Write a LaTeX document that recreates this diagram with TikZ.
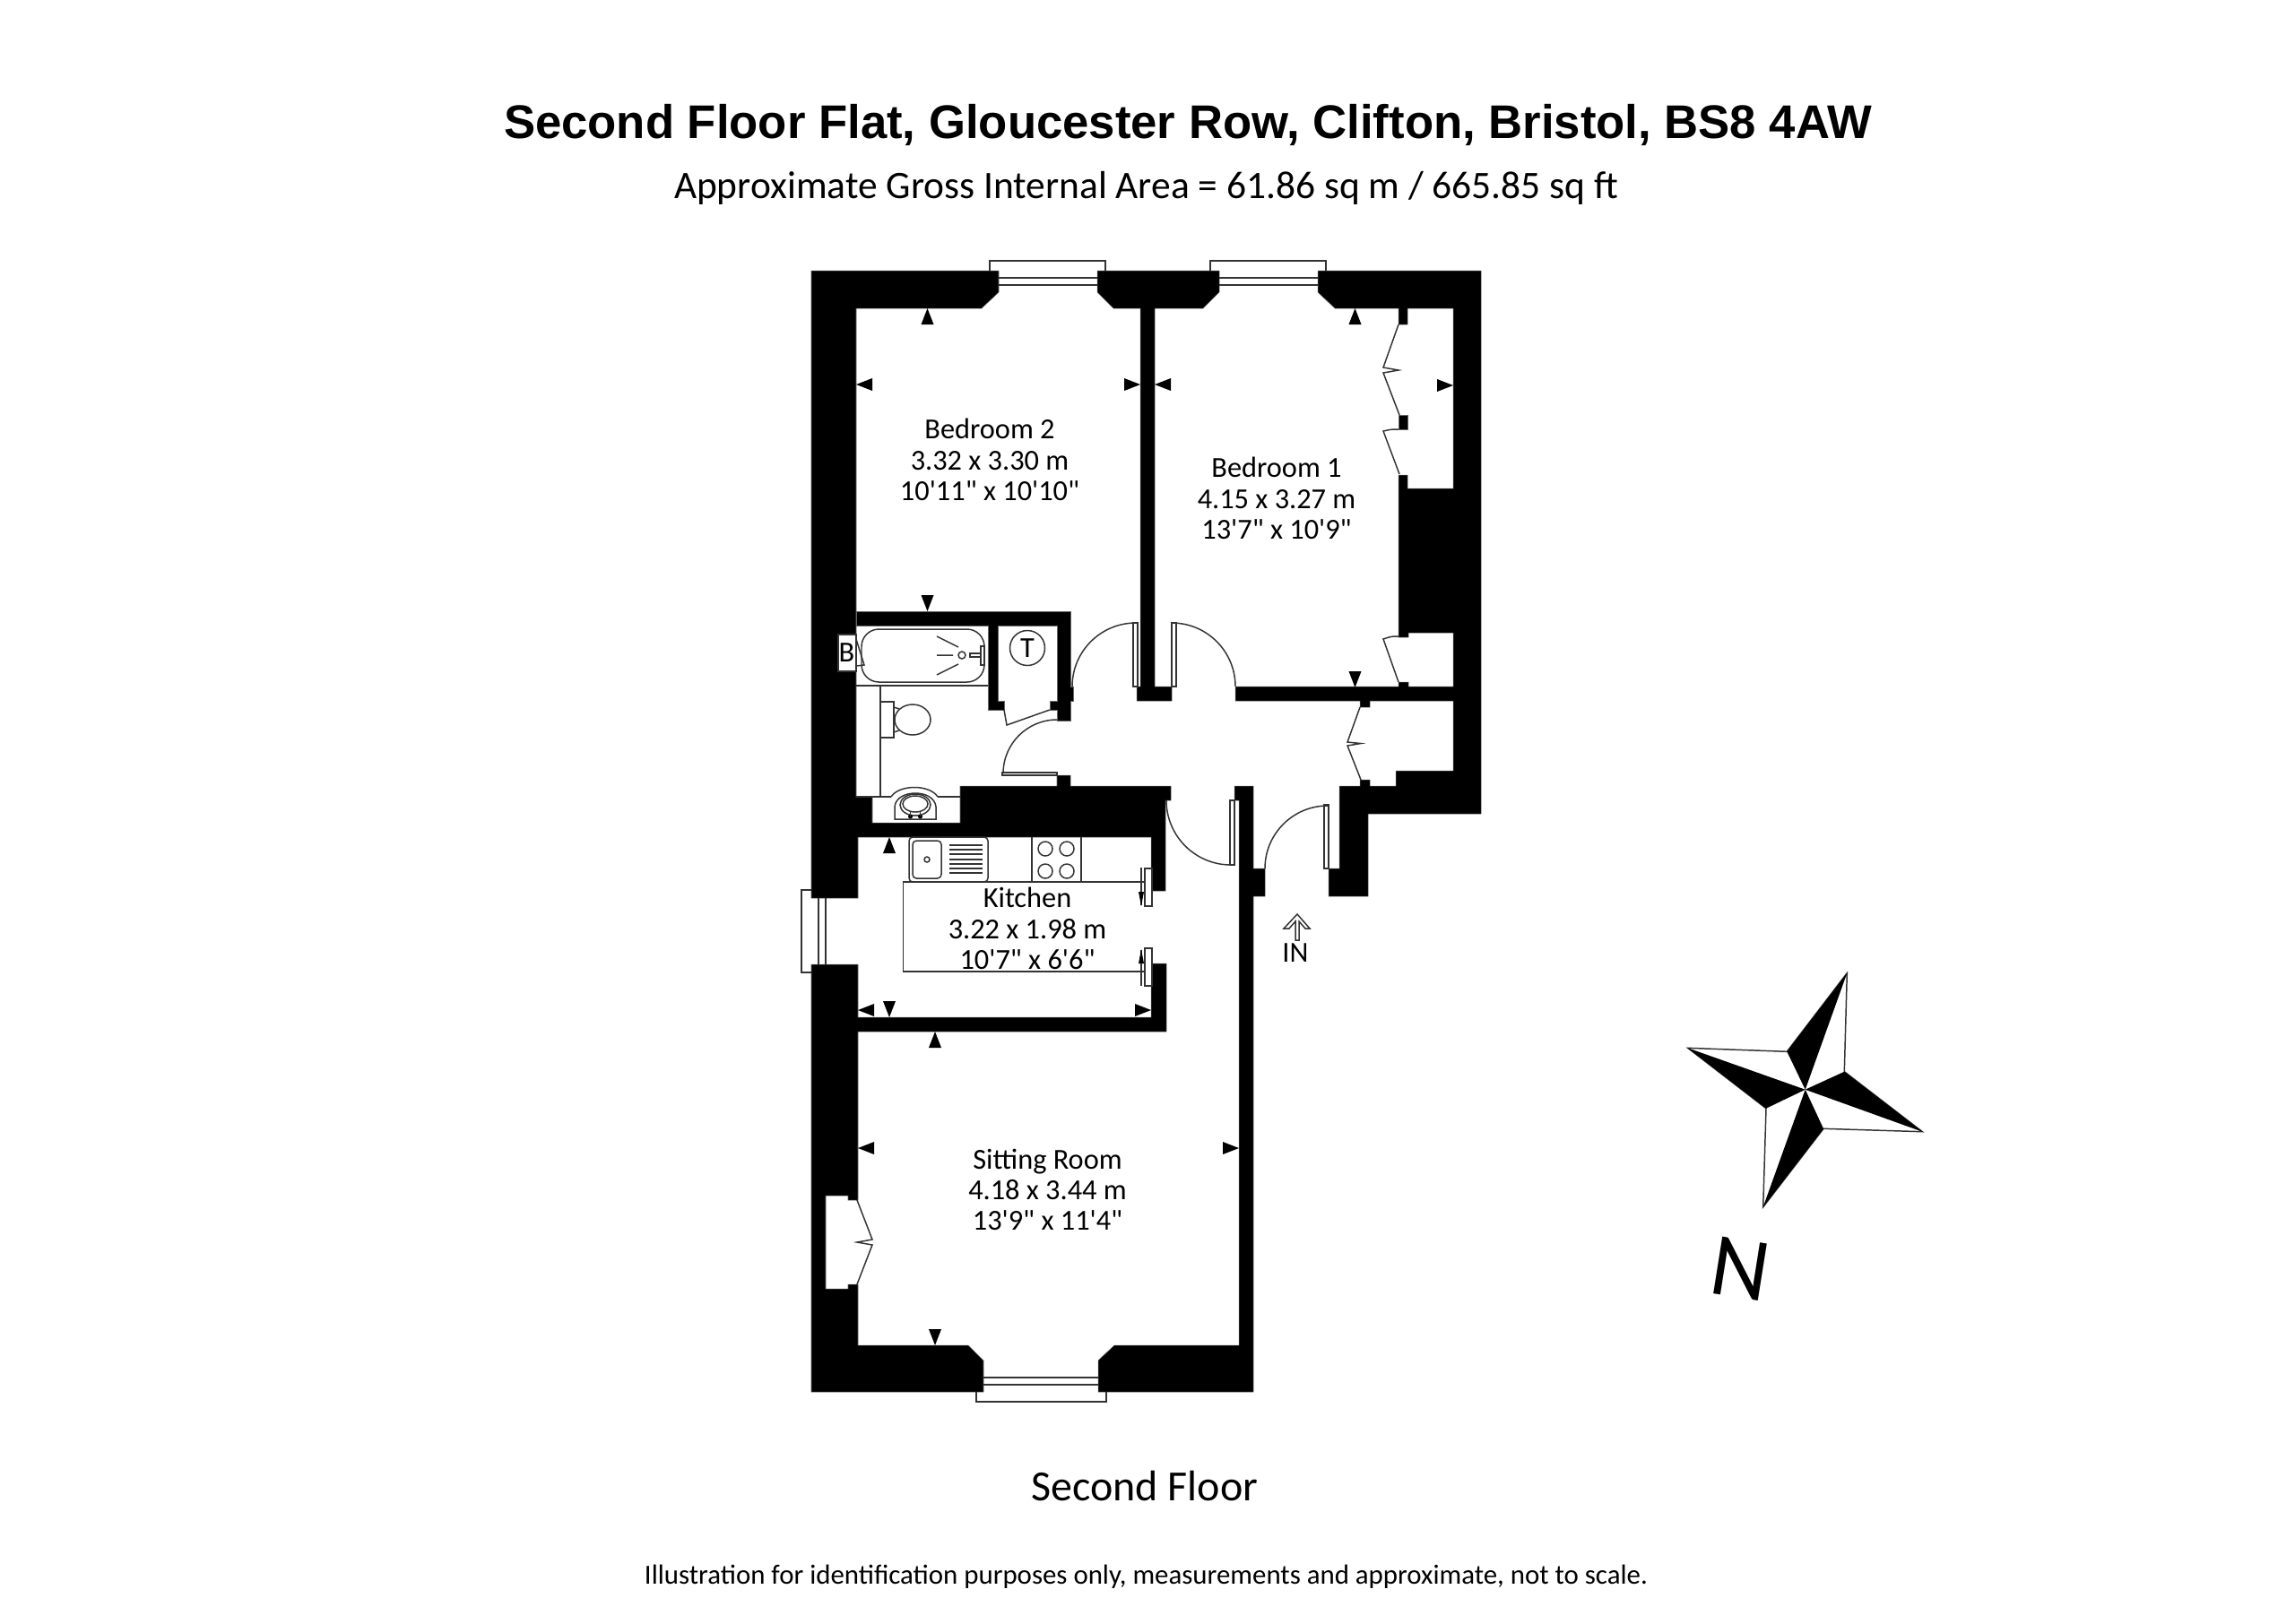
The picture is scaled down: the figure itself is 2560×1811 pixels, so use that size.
\documentclass[tikz,border=0pt]{standalone}
\usepackage{fontspec}
\setmainfont{Carlito}
\newfontfamily\headfont{Liberation Sans}
\newfontfamily\roomfont{Carlito}
\usetikzlibrary{positioning}

\begin{document}
\begin{tikzpicture}[
            x=0.01cm, y=-0.01cm,
            wall/.style={fill=black, draw=black!60, line width=0.15pt},
            thin line/.style={draw=black!80, line width=0.42pt},
            leaf/.style={draw=black!80, line width=0.42pt, fill=white},
            room/.style={align=center, inner sep=0pt, font=\roomfont\fontsize{9.2}{9.75}\selectfont},
            caption/.style={anchor=base, inner sep=0pt},
            pip/.pic={\fill (0,0) -- (-7,18) -- (7,18) -- cycle;}]
            \useasboundingbox (0,0) rectangle (2560,1811);

            % walls
            \path[wall] (905,302) -- (1114,302) -- (1114,326) -- (1095,344) -- (955,344) -- (955,889) -- (973,889) -- (973,918)
                -- (1071,918) -- (1071,877) -- (1179,877) -- (1179,865) -- (1194,865) -- (1194,877) -- (1306,877) -- (1306,893)
                -- (1300,893) -- (1300,994) -- (1284,994) -- (1284,934) -- (957,934) -- (957,1002) -- (905,1002) -- cycle;
            \path[wall] (1224,302) -- (1360,302) -- (1360,326) -- (1342,344) -- (1288,344) -- (1288,766) -- (1307,766) -- (1307,782)
                -- (1268,782) -- (1268,766) -- (1272,766) -- (1272,344) -- (1242,344) -- (1224,326) -- cycle;
            \path[wall] (1470,302) -- (1652,302) -- (1652,908) -- (1526,908) -- (1526,1000) -- (1482,1000) -- (1482,969) -- (1494,969)
                -- (1494,877) -- (1517,877) -- (1517,870) -- (1528,870) -- (1528,877) -- (1557,877) -- (1557,860) -- (1621,860)
                -- (1621,782) -- (1528,782) -- (1528,789) -- (1517,789) -- (1517,782) -- (1378,782) -- (1378,766) -- (1560,766)
                -- (1560,761) -- (1571,761) -- (1571,766) -- (1621,766) -- (1621,706) -- (1571,706) -- (1571,711) -- (1560,711)
                -- (1560,530) -- (1570,530) -- (1570,545) -- (1621,545) -- (1621,344) -- (1570,344) -- (1570,362) -- (1560,362)
                -- (1560,344) -- (1489,344) -- (1470,326) -- cycle;
            \path[wall] (1560,463) rectangle (1570,479);
            \path[wall] (955,682) -- (1194,682) -- (1194,766) -- (1197,766) -- (1197,782) -- (1194,782) -- (1194,804) -- (1179,804)
                -- (1179,792) -- (1171,792) -- (1171,782) -- (1179,782) -- (1179,698) -- (1113,698) -- (1113,782) -- (1120,782)
                -- (1120,792) -- (1102,792) -- (1102,698) -- (955,698) -- cycle;
            \path[wall] (905,1076) -- (957,1076) -- (957,1135) -- (1284,1135) -- (1284,1075) -- (1301,1075) -- (1301,1151) -- (957,1151)
                -- (957,1339) -- (946,1339) -- (946,1334) -- (921,1334) -- (921,1438) -- (946,1438) -- (946,1433) -- (957,1433)
                -- (957,1501) -- (1080,1501) -- (1097,1518) -- (1097,1553) -- (905,1553) -- cycle;
            \path[wall] (1225,1553) -- (1225,1518) -- (1243,1501) -- (1382,1501) -- (1382,893) -- (1377,893) -- (1377,877) -- (1398,877)
                -- (1398,969) -- (1411,969) -- (1411,1000) -- (1398,1000) -- (1398,1553) -- cycle;

            % windows
            \draw[thin line] (1104,302) -- (1104,291) -- (1233,291) -- (1233,302)
                             (1114,310) -- (1224,310) (1114,318) -- (1224,318);
            \draw[thin line] (1350,302) -- (1350,291) -- (1479,291) -- (1479,302)
                             (1360,310) -- (1470,310) (1360,318) -- (1470,318);
            \draw[thin line] (905,993) -- (894,993) -- (894,1085) -- (905,1085)
                             (913,1002) -- (913,1076) (921,1002) -- (921,1076);
            \draw[thin line] (1089,1553) -- (1089,1564) -- (1234,1564) -- (1234,1553)
                             (1097,1537) -- (1225,1537) (1097,1545) -- (1225,1545);

            % doors
            \draw[leaf] (1264,695) rectangle (1269,766);
            \draw[leaf] (1307,695) rectangle (1312,766);
            \draw[leaf] (1372,893) rectangle (1377,965);
            \draw[leaf] (1477,898) rectangle (1482,969);
            \draw[leaf] (1118,862) rectangle (1179,865);
            \draw[thin line] (1196,766) arc[start angle=180, end angle=270, radius=71];
            \draw[thin line] (1307,695) arc[start angle=270, end angle=360, radius=71];
            \draw[thin line] (1301,893) arc[start angle=180, end angle=90, radius=72];
            \draw[thin line] (1411,969) arc[start angle=180, end angle=270, radius=70];
            \draw[thin line] (1119,863) arc[start angle=180, end angle=270, radius=60];
            \draw[thin line] (1120,792) -- (1123,809) -- (1171,792);

            % cupboard doors
            \draw[thin line] (1560,362) -- (1543,410) -- (1560,413) -- (1543,416) -- (1561,463);
            \draw[thin line] (1560,479) .. controls (1552,479) .. (1543,481) -- (1561,529);
            \draw[thin line] (1560,710) .. controls (1552,710) .. (1543,713) -- (1560,761);
            \draw[thin line] (1517,789) -- (1503,828) -- (1518,829.5) -- (1503,832) -- (1518,870);
            \draw[thin line] (956,1339) -- (973,1383) -- (956,1386) -- (973,1389) -- (956,1433);

            % bathroom
            \draw[thin line] (955,765) -- (1102,765) (982,765) -- (982,889) (955,889) -- (994,889) (1046,889) -- (1071,889);
            \draw[thin line, rounded corners=5.5pt] (961,702) rectangle (1098,761);
            \draw[thin line] (1045,710) -- (1069,722) (1045,731) -- (1063,731) (1045,753) -- (1069,741);
            \draw[thin line] (1073,731) circle [radius=4];
            \draw[leaf] (1082,729) rectangle (1095,733);
            \draw[leaf] (1094,721) rectangle (1098,742);
            \draw[thin line] (955,713) -- (964,742) -- (955,743);
            \draw[leaf] (935,708) rectangle (955,749);
            \node[room] (boiler) at (944.5,728) {B};
            \draw[thin line] (1146,723) circle [radius=19.5];
            \node[room] (tank) at (1146,723) {T};
            \draw[thin line] (982,783) rectangle (997,823);
            \draw[thin line] (997,789) -- (1003,791) (997,817) -- (1003,815);
            \draw[thin line] (1018,803) ellipse [x radius=20, y radius=17];
            \draw[thin line] (994,889) .. controls (1003,875) and (1037,875) .. (1046,889);
            \draw[leaf] (998,914) -- (998,900) .. controls (1000,880) and (1042,880) .. (1044,900) -- (1044,914) -- cycle;
            \draw[thin line] (1021,898) ellipse [x radius=17, y radius=12];
            \draw[thin line] (1021,897) ellipse [x radius=14, y radius=9];
            \fill (1015.5,911) circle [radius=2.5];
            \fill (1026.5,911) circle [radius=2.5];
            \draw[thin line] (1015.5,905) -- (1015.5,911) (1026.5,905) -- (1026.5,911);

            % kitchen
            \draw[thin line, rounded corners=1.2pt] (1014,934) rectangle (1102,984);
            \draw[thin line, rounded corners=1.2pt] (1018,938) rectangle (1050,980);
            \draw[thin line] (1034,959) circle [radius=3];
            \foreach \y in {943,948,953,959,964,969,974}
                \draw[thin line] (1059,\y) -- (1096,\y);
            \draw[thin line] (1151,934) -- (1151,984) (1206,934) -- (1206,984);
            \foreach \x in {1166,1190}
                \foreach \y in {947,972}
                    \draw[thin line] (\x,\y) circle [radius=8];
            \draw[thin line] (1277,984) -- (1007.5,984) -- (1007.5,1084) -- (1277,1084);
            \draw[leaf] (1277,969) rectangle (1285,1011);
            \draw[leaf] (1277,1058) rectangle (1285,1100);
            \draw[thin line] (1273,968) -- (1273,1010) (1273,1060) -- (1273,1100);
            \fill (1270,995) -- (1276,995) -- (1273,1011) -- cycle;
            \fill (1270,1075) -- (1276,1075) -- (1273,1059) -- cycle;

            % dimension marks
            \foreach \x/\y/\a in {1034.5/344/0, 1511.5/344/0, 992/934/0, 1043/1151/0,
                                  955/429/90, 1288/429/90, 957/1127/90, 957/1281/90,
                                  1272/429/270, 1621/430/270, 1284/1127/270, 1382/1281/270,
                                  1034.5/682/180, 1511.5/767/180, 992/1135/180, 1043/1501/180}
                \pic[rotate=\a] at (\x,\y) {pip};

            % entrance arrow
            \draw[leaf] (1447,1020) -- (1461,1036) -- (1456,1036) -- (1449,1028) -- (1449,1049)
                        -- (1445,1049) -- (1445,1028) -- (1438,1036) -- (1432,1036) -- cycle;
            \node[room] (entry) at (1445,1063) {IN};

            % compass
            \coordinate (hub) at (2013.7,1215.7);
            \coordinate (north) at (2060.3,1085.7);
            \coordinate (east) at (2144.3,1262.7);
            \coordinate (south) at (1966.7,1346.7);
            \coordinate (west) at (1882.7,1169.3);
            \draw[thin line] (north) -- (2057.3,1195.7) -- (east) -- (2034,1259.3) -- (south) -- (1970,1236.7) -- (west) -- (1993.3,1173.3) -- cycle;
            \fill (hub) -- (1993.3,1173.3) -- (north) -- cycle;
            \fill (hub) -- (2057.3,1195.7) -- (east) -- cycle;
            \fill (hub) -- (2034,1259.3) -- (south) -- cycle;
            \fill (hub) -- (1970,1236.7) -- (west) -- cycle;
            \node[inner sep=0pt, rotate=-9, font=\fontsize{28.5}{30}\selectfont] (letter) at (1941.7,1416) {N};

            % rooms
            \node[room] (bed two) at (1104,513) {Bedroom 2\\3.32 x 3.30 m\\10'11" x 10'10"};
            \node[room] (bed one) at (1424,556) {Bedroom 1\\4.15 x 3.27 m\\13'7" x 10'9"};
            \node[room] (kitchen) at (1146,1036) {Kitchen\\3.22 x 1.98 m\\10'7" x 6'6"};
            \node[room] (sitting) at (1168.5,1327.5) {Sitting Room\\4.18 x 3.44 m\\13'9" x 11'4"};

            % captions
            \node[caption, font=\headfont\bfseries\fontsize{14.98}{18}\selectfont] (title) at (1325,154) {Second Floor Flat, Gloucester Row, Clifton, Bristol, BS8 4AW};
            \node[caption, font=\fontsize{12.35}{15}\selectfont] (area) at (1278.5,221) {Approximate Gross Internal Area = 61.86 sq m / 665.85 sq ft};
            \node[caption, font=\fontsize{13.65}{16}\selectfont] (floor) at (1277,1674) {Second Floor};
            \node[caption, font=\fontsize{8.78}{11}\selectfont] (note) at (1278.5,1767) {Illustration for identification purposes only, measurements and approximate, not to scale.};
        \end{tikzpicture}
\end{document}
